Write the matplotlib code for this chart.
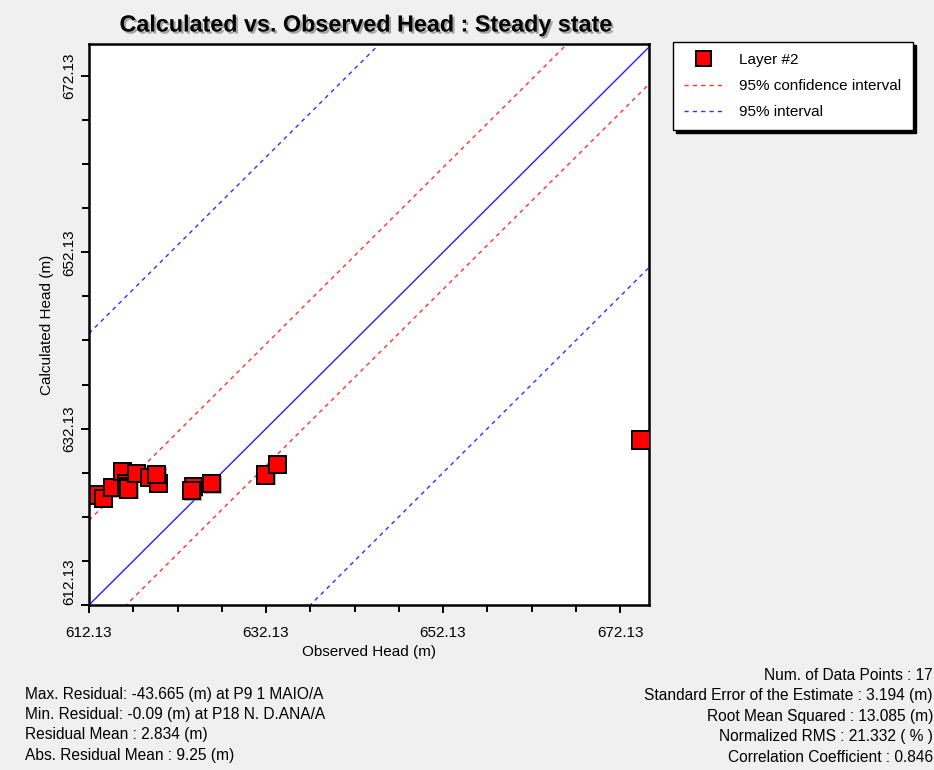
import numpy as np
import matplotlib
matplotlib.use('Agg')
import matplotlib.pyplot as plt
import matplotlib.patheffects as pe
from matplotlib.ticker import FixedLocator

plt.rcParams['font.family'] = ['Liberation Sans', 'DejaVu Sans']

# observed vs calculated heads (m)
observed = [613.18, 613.75, 614.76, 615.94, 616.39, 616.50, 616.62, 617.52, 619.02,
            619.96, 619.78, 623.92, 623.73, 626.00, 632.10, 633.41, 674.50]
calculated = [624.61, 624.23, 625.44, 627.25, 625.86, 625.50, 625.29, 627.07, 626.61,
              625.94, 626.96, 625.55, 625.10, 625.91, 626.88, 628.09, 630.835]

# offsets of the interval lines from the 1:1 line
conf_offsets = [9.6, -4.2]
interval_offsets = [30.8, -25.0]

major_ticks = [612.13, 632.13, 652.13, 672.13]
minor_ticks = [612.13 + 5 * k for k in range(13)]
xlim = (612.13, 675.4)
ylim = (612.13, 675.75)

left_stats = ['Max. Residual: -43.665 (m) at P9 1 MAIO/A',
              'Min. Residual: -0.09 (m) at P18 N. D.ANA/A',
              'Residual Mean : 2.834 (m)',
              'Abs. Residual Mean : 9.25 (m)']
right_stats = ['Num. of Data Points : 17',
               'Standard Error of the Estimate : 3.194 (m)',
               'Root Mean Squared : 13.085 (m)',
               'Normalized RMS : 21.332 ( % )',
               'Correlation Coefficient : 0.846']

W, H = 934, 770
fig = plt.figure(figsize=(W / 100, H / 100), dpi=100, facecolor='#f0f0f0')
ax = fig.add_axes([89 / W, 1 - 605 / H, (649 - 89) / W, (605 - 44) / H])
ax.set_facecolor('white')

xs = np.array(xlim)
ax.plot(xs, xs, color='#2020ff', lw=1.0, zorder=2)
for i, off in enumerate(conf_offsets):
    ax.plot(xs, xs + off, color='#ff3030', lw=1.0, dashes=(3, 3), zorder=2,
            label='95% confidence interval' if i == 0 else None)
for i, off in enumerate(interval_offsets):
    ax.plot(xs, xs + off, color='#3030ff', lw=1.0, dashes=(3, 3), zorder=2,
            label='95% interval' if i == 0 else None)

ax.plot(observed, calculated, ls='none', marker='s', ms=12.5, mfc='#ff0000',
        mec='black', mew=1.4, zorder=3, label='Layer #2',
        path_effects=[pe.SimplePatchShadow(offset=(1, -1), shadow_rgbFace='#808080', alpha=0.6), pe.Normal()])

ax.set_xlim(xlim)
ax.set_ylim(ylim)
for axis in (ax.xaxis, ax.yaxis):
    axis.set_major_locator(FixedLocator(major_ticks))
    axis.set_minor_locator(FixedLocator(minor_ticks))
ax.set_xticklabels([f'{t:.2f}' for t in major_ticks])
ax.set_yticklabels([f'{t:.2f}' for t in major_ticks], rotation=90, va='center')
ax.get_yticklabels()[0].set_va('bottom')
ax.tick_params(which='both', direction='out', width=1.4, color='black', labelsize=11, pad=3)
ax.tick_params(axis='x', which='both', pad=9)
ax.tick_params(which='major', length=6)
ax.tick_params(which='minor', length=5)
for s in ax.spines.values():
    s.set_linewidth(1.8)
    s.set_color('black')

ax.set_xlabel('Observed Head (m)', fontsize=11, labelpad=4)
ax.set_ylabel('Calculated Head (m)', fontsize=11, labelpad=6)

fig.text(366 / W, 1 - 25 / H, 'Calculated vs. Observed Head : Steady state',
         ha='center', va='center', fontsize=16.8, fontweight='bold',
         path_effects=[pe.withSimplePatchShadow(offset=(1.5, -1.5), shadow_rgbFace='#707070', alpha=0.6)])

handles, labels = ax.get_legend_handles_labels()
order = [labels.index('Layer #2'), labels.index('95% confidence interval'), labels.index('95% interval')]
leg = fig.legend([handles[i] for i in order], [labels[i] for i in order],
                 loc='upper left', bbox_to_anchor=(673 / W, 1 - 125 / H, 240 / W, 83 / H),
                 mode='expand', fontsize=11, frameon=True, fancybox=False,
                 shadow={'color': 'black', 'alpha': 1.0}, borderaxespad=0,
                 handlelength=2.6, handletextpad=1.0, labelspacing=0.8, borderpad=0.7,
                 markerscale=0.85)
leg.get_frame().set_edgecolor('black')
leg.get_frame().set_linewidth(1.0)

for i, t in enumerate(left_stats):
    fig.text(25 / W, 1 - (694 + 20.5 * i) / H, t, ha='left', va='center', fontsize=11.2)
for i, t in enumerate(right_stats):
    fig.text(933 / W, 1 - (675 + 20.5 * i) / H, t, ha='right', va='center', fontsize=11.2)

fig.savefig('out.png', dpi=100, facecolor=fig.get_facecolor())
